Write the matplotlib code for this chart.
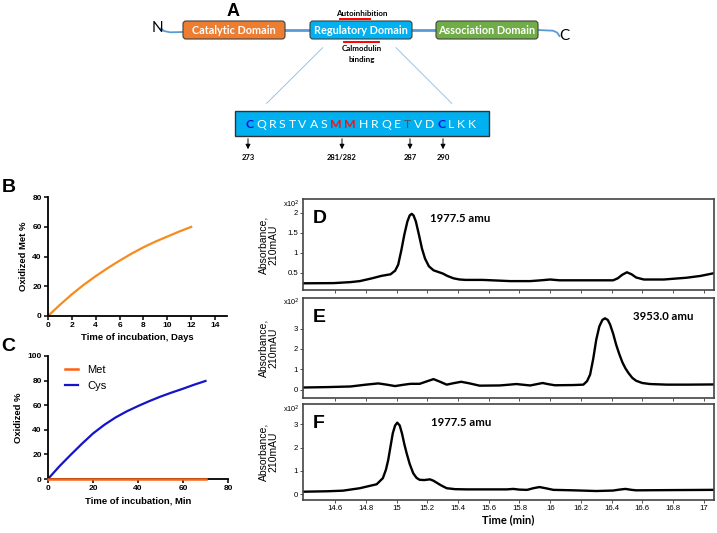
import numpy as np
import matplotlib
matplotlib.use("Agg")
import matplotlib.pyplot as plt
from matplotlib.patches import FancyBboxPatch, Rectangle

plt.rcParams['font.family'] = ['Liberation Sans', 'DejaVu Sans']

# ---- panel A: domain map and peptide
domains = ["Catalytic Domain", "Regulatory Domain", "Association Domain"]
domain_colors = ["#ED7D31", "#00B0F0", "#70AD47"]
peptide = "CQRSTVASMMHRQETVDCLKK"
residue_labels = ["273", "281/282", "287", "290"]

# ---- panel B: Met oxidation over days
b_days = [0, 1, 2, 3, 4, 5, 6, 7, 8, 9, 10, 11, 12]
b_met = [0, 7.5, 14.6, 21.0, 26.8, 32.2, 37.2, 41.9, 46.2, 50.0, 53.4, 56.8, 59.9]

# ---- panel C: Met / Cys oxidation over minutes
c_min = [0, 5, 10, 15, 20, 25, 30, 35, 40, 45, 50, 55, 60, 65, 70]
c_cys = [0, 10.2, 19.5, 28.5, 37.0, 44.0, 50.0, 55.0, 59.3, 63.3, 67.0, 70.3, 73.4, 76.7, 79.7]
c_met = [0, 0, 0, 0, 0, 0, 0, 0, 0, 0, 0, 0, 0, 0, 0]

# ---- panels D-F: chromatograms (time in min, absorbance x10^2 mAU)
d_t = [14.39, 14.59, 14.70, 14.76, 14.84, 14.90, 14.96, 14.99, 15.01, 15.03, 15.05, 15.07,
       15.085, 15.098, 15.11, 15.125, 15.145, 15.165, 15.185, 15.21, 15.24, 15.27, 15.30,
       15.33, 15.37, 15.41, 15.45, 15.56, 15.74, 15.87, 15.94, 16.00, 16.06, 16.19, 16.41,
       16.44, 16.47, 16.50, 16.53, 16.56, 16.61, 16.74, 16.89, 16.98, 17.07]
d_abs = [0.235, 0.24, 0.265, 0.29, 0.36, 0.42, 0.46, 0.55, 0.70, 1.05, 1.45, 1.78,
         1.93, 1.97, 1.93, 1.78, 1.45, 1.10, 0.85, 0.66, 0.56, 0.52, 0.48,
         0.42, 0.36, 0.33, 0.32, 0.32, 0.29, 0.29, 0.31, 0.33, 0.31, 0.31, 0.31,
         0.36, 0.45, 0.51, 0.46, 0.38, 0.33, 0.33, 0.375, 0.42, 0.49]

e_t = [14.39, 14.55, 14.70, 14.80, 14.88, 14.935, 14.99, 15.04, 15.09, 15.15, 15.20, 15.24,
       15.28, 15.326, 15.37, 15.42, 15.47, 15.54, 15.67, 15.72, 15.78, 15.83, 15.87, 15.91,
       15.95, 15.99, 16.03, 16.15, 16.216, 16.24, 16.26, 16.28, 16.30, 16.32, 16.34, 16.357,
       16.375, 16.39, 16.41, 16.43, 16.45, 16.47, 16.49, 16.51, 16.535, 16.56, 16.60, 16.65,
       16.76, 16.90, 17.07]
e_abs = [0.11, 0.13, 0.16, 0.25, 0.31, 0.25, 0.18, 0.24, 0.29, 0.29, 0.42, 0.52,
         0.40, 0.25, 0.32, 0.39, 0.32, 0.20, 0.21, 0.24, 0.28, 0.24, 0.21, 0.27,
         0.33, 0.27, 0.22, 0.23, 0.25, 0.42, 0.74, 1.50, 2.45, 3.10, 3.42, 3.50,
         3.42, 3.20, 2.75, 2.20, 1.75, 1.35, 1.05, 0.82, 0.58, 0.44, 0.33, 0.28,
         0.25, 0.25, 0.26]

f_t = [14.39, 14.55, 14.65, 14.76, 14.87, 14.91, 14.93, 14.945, 14.96, 14.975, 14.99, 15.004,
       15.02, 15.035, 15.05, 15.065, 15.085, 15.108, 15.13, 15.15, 15.18, 15.217, 15.24, 15.26,
       15.29, 15.326, 15.38, 15.456, 15.717, 15.76, 15.80, 15.85, 15.89, 15.93, 15.97, 16.02,
       16.15, 16.30, 16.41, 16.45, 16.49, 16.53, 16.56, 16.80, 17.07]
f_abs = [0.11, 0.13, 0.155, 0.26, 0.43, 0.69, 1.05, 1.47, 2.05, 2.62, 2.95, 3.07,
         2.95, 2.60, 2.15, 1.76, 1.30, 0.90, 0.70, 0.62, 0.61, 0.64, 0.58, 0.50,
         0.38, 0.26, 0.22, 0.21, 0.21, 0.23, 0.20, 0.19, 0.26, 0.31, 0.26, 0.19,
         0.17, 0.14, 0.16, 0.20, 0.23, 0.19, 0.17, 0.18, 0.19]

time_ticks = [14.6, 14.8, 15.0, 15.2, 15.4, 15.6, 15.8, 16.0, 16.2, 16.4, 16.6, 16.8, 17.0]
time_labels = ["14.6", "14.8", "15", "15.2", "15.4", "15.6", "15.8", "16", "16.2",
               "16.4", "16.6", "16.8", "17"]

W, H = 717, 533
fig = plt.figure(figsize=(W / 100, H / 100), dpi=100)


def fax(l, t, r, b):
    # axes from pixel box (left, top, right, bottom)
    return fig.add_axes([l / W, 1 - b / H, (r - l) / W, (b - t) / H])


# overlay in pixel coordinates for diagram and free text
ax0 = fig.add_axes([0, 0, 1, 1], zorder=10)
ax0.set_xlim(0, W)
ax0.set_ylim(H, 0)
ax0.axis('off')

ax0.text(233, 12, "A", fontsize=13, fontweight='bold', ha='center', va='center')
ax0.text(157, 27.5, "N", fontsize=11, family='Lato', ha='center', va='center')
ax0.text(564, 36.5, "C", fontsize=11, family='Lato', ha='center', va='center')

line_c = "#5B9BD5"
ax0.plot([161, 164, 170, 183], [28.5, 31, 32.3, 32], color=line_c, lw=1.3, zorder=1)
ax0.plot([285, 310], [30, 30], color=line_c, lw=2, zorder=1)
ax0.plot([412, 436], [30, 30], color=line_c, lw=2, zorder=1)
ax0.plot([538, 553, 557, 559.5], [30, 30.7, 32.5, 36], color=line_c, lw=1.3, zorder=1)

for i, (name, col) in enumerate(zip(domains, domain_colors)):
    x = [183, 310, 436][i]
    ax0.add_patch(FancyBboxPatch((x, 21), 102, 18, boxstyle="round,pad=0,rounding_size=3",
                                 fc=col, ec="#404040", lw=0.8, zorder=2))
    ax0.text(x + 51, 30.5, name, color='white', fontsize=7.8, fontweight='bold',
             family='Lato', ha='center', va='center', zorder=3)

ax0.text(362, 13.5, "Autoinhibition", fontsize=5.8, fontweight='bold', family='Lato',
         ha='center', va='center')
ax0.plot([340, 370], [19, 19], color='red', lw=1.4)
ax0.plot([344, 379], [41.7, 41.7], color='red', lw=1.4)
ax0.text(362, 48.3, "Calmodulin", fontsize=5.8, fontweight='bold', family='Lato',
         ha='center', va='center')
ax0.text(362, 59.3, "binding", fontsize=5.8, fontweight='bold', family='Lato',
         ha='center', va='center')

ax0.plot([322.7, 266.7], [47.7, 103.3], color="#9DC3E6", lw=0.7)
ax0.plot([396, 451.7], [47.7, 103.3], color="#9DC3E6", lw=0.7)

ax0.add_patch(Rectangle((235, 111), 254, 25, fc="#00B0F0", ec="#333333", lw=1))

# peptide letters: proportional layout, spread between x=245 and x=476
renderer = fig.canvas.get_renderer()
letters = []
for i, aa in enumerate(peptide):
    col, fw = 'white', 'normal'
    if aa == 'C':
        col, fw = '#1010E0', 'bold'
    elif aa == 'M':
        col, fw = '#FF1010', 'bold'
    elif i == 14:
        col = '#505050'
    txt = ax0.text(0, 124, aa, color=col, fontweight=fw, fontsize=8.8,
                   family='Lato', ha='left', va='center')
    letters.append(txt)
widths = [t.get_window_extent(renderer).width for t in letters]
gap = (476 - 245 - sum(widths)) / (len(widths) - 1)
xpos = 245
for txt, w in zip(letters, widths):
    txt.set_x(xpos)
    xpos += w + gap

for x, lab in zip([248, 342, 410, 443], residue_labels):
    ax0.annotate('', xy=(x, 152), xytext=(x, 136),
                 arrowprops=dict(arrowstyle='-|>', color='black', lw=0.7, mutation_scale=7))
    ax0.text(x, 158, lab, fontsize=5.5, fontweight='bold', family='Lato',
             ha='center', va='center')

# ---- B
axB = fax(48, 197, 227, 316)
axB.plot(b_days, b_met, color="#F68B1F", lw=1.6, clip_on=False)
axB.set_xlim(0, 15)
axB.set_ylim(0, 80)
axB.set_xticks(range(0, 15, 2))
axB.set_yticks(range(0, 81, 20))
axB.set_ylabel("Oxidized Met %", fontsize=6.8, fontweight='bold', labelpad=3)
axB.set_xlabel("Time of incubation, Days", fontsize=6.8, fontweight='bold', labelpad=3)

# ---- C
axC = fax(48, 356, 228, 479)
axC.plot(c_min, c_met, color="#FF6010", lw=1.8, clip_on=False, zorder=5, label="Met")
axC.plot(c_min, c_cys, color="#1414C8", lw=1.6, clip_on=False, label="Cys")
axC.set_xlim(0, 80)
axC.set_ylim(0, 100)
axC.set_xticks(range(0, 81, 20))
axC.set_yticks(range(0, 101, 20))
axC.set_ylabel("Oxidized %", fontsize=6.8, fontweight='bold', labelpad=3)
axC.set_xlabel("Time of incubation, Min", fontsize=6.8, fontweight='bold', labelpad=3)
axC.legend(loc='upper left', bbox_to_anchor=(0.094, 0.93), frameon=False, fontsize=8,
           borderpad=0, borderaxespad=0, handlelength=1.2, handletextpad=0.8,
           labelspacing=0.6)

for ax in (axB, axC):
    for s in ('top', 'right'):
        ax.spines[s].set_visible(False)
    for s in ('left', 'bottom'):
        ax.spines[s].set_linewidth(1.3)
    ax.tick_params(labelsize=6, width=1.1, length=3, pad=1.5)
    for lbl in ax.get_xticklabels() + ax.get_yticklabels():
        lbl.set_fontweight('bold')

ax0.text(8.5, 188, "B", fontsize=14, fontweight='bold', ha='center', va='center')
ax0.text(8.5, 346.5, "C", fontsize=14, fontweight='bold', ha='center', va='center')

# ---- D, E, F
chroms = [
    (d_t, d_abs, (199, 290), (0.068, 2.34), [0.5, 1, 1.5, 2], ["0.5", "1", "1.5", "2"],
     "D", "1977.5 amu", 460),
    (e_t, e_abs, (297.5, 397.5), (-0.38, 4.52), [0, 1, 2, 3], ["0", "1", "2", "3"],
     "E", "3953.0 amu", 663),
    (f_t, f_abs, (404, 500), (-0.245, 3.87), [0, 1, 2, 3], ["0", "1", "2", "3"],
     "F", "1977.5 amu", 461),
]
for t, a, (top, bot), ylim, yt, ytl, letter, mass, mass_x in chroms:
    ax = fax(303, top, 714, bot)
    ax.plot(t, a, color='black', lw=1.7)
    ax.set_xlim(14.39, 17.067)
    ax.set_ylim(*ylim)
    ax.set_yticks(yt)
    ax.set_yticklabels(ytl)
    ax.set_xticks(time_ticks)
    if letter == "F":
        ax.set_xticklabels(time_labels)
        ax.set_xlabel("Time (min)", fontsize=8, fontweight='bold', family='Lato', labelpad=2)
    else:
        ax.set_xticklabels([])
    ax.tick_params(labelsize=5.6, length=2, width=0.6, pad=1.5, colors='#333333',
                   labelcolor='black')
    for s in ax.spines.values():
        s.set_linewidth(1.2)
        s.set_color('#444444')
    ax.set_ylabel("Absorbance,\n210mAU", fontsize=7.5, linespacing=0.9)
    ax.yaxis.set_label_coords(-25 / 411, 0.5)
    ax.text(10 / 411, 1 - 11 / (bot - top), letter, transform=ax.transAxes, fontsize=14,
            fontweight='bold', va='top', ha='left')
    ax0.text(mass_x, top + 19, mass, fontsize=8.2, fontweight='bold', family='Lato',
             ha='center', va='center')
    ax0.text(291, top + 5, r"x10$^{2}$", fontsize=5.3, ha='center', va='center')

fig.savefig("out.png", dpi=100)
